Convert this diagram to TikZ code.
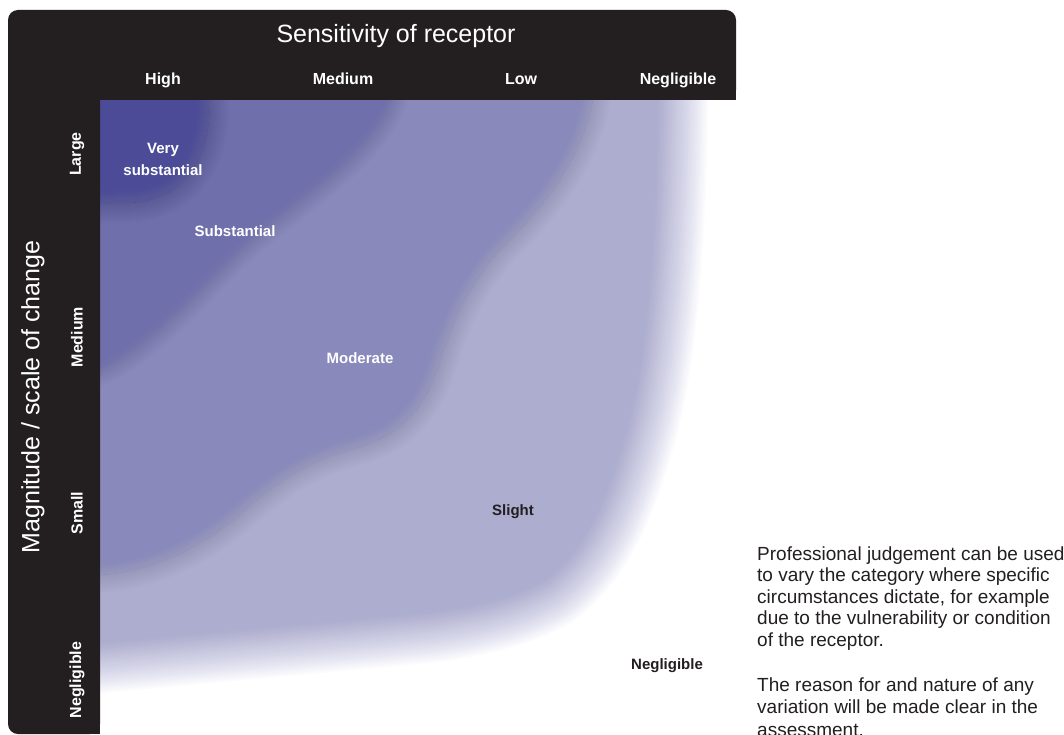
\documentclass[tikz,border=0pt]{standalone}
\usepackage{fontspec}
\setmainfont{Liberation Sans}
\definecolor{framecol}{HTML}{231F20}
\definecolor{vsubcol}{HTML}{4B4B97}
\definecolor{subcol}{HTML}{6F6FAB}
\definecolor{modcol}{HTML}{8989BB}
\definecolor{slicol}{HTML}{ADADD0}
\definecolor{txtcol}{HTML}{231F20}

% soft edge on both sides: #1 region colour, #2 colour outside it, #3 blur width, #4 path
\newcommand\softregion[4]{%
  \foreach \j in {1,...,20}{%
    \pgfmathsetmacro\sfop{1/(41-\j)}%
    \pgfmathsetmacro\sflw{#3*(21-\j)/20}%
    \draw[draw=#1, line width=\sflw pt, draw opacity=\sfop, line join=round] #4;
  }%
  \fill[#1] #4;
  \begin{scope}
    \clip #4;
    \foreach \j in {1,...,20}{%
      \pgfmathsetmacro\sfop{1/(41-\j)}%
      \pgfmathsetmacro\sflw{#3*(21-\j)/20}%
      \draw[draw=#2, line width=\sflw pt, draw opacity=\sfop, line join=round] #4;
    }%
  \end{scope}
}
% soft edge outward only: #1 colour, #2 fade distance, #3 path (core)
\newcommand\softout[3]{%
  \foreach \j in {1,...,24}{%
    \pgfmathsetmacro\sfop{1/(26-\j)}%
    \pgfmathsetmacro\sflw{2*#2*(25-\j)/24}%
    \draw[draw=#1, line width=\sflw pt, draw opacity=\sfop, line join=round] #3;
  }%
  \fill[#1] #3;
}

\tikzset{
  hdr/.style={text=white, font=\fontsize{25}{30}\selectfont, inner sep=0},
  collab/.style={text=white, font=\bfseries\fontsize{16}{19}\selectfont, inner sep=0, anchor=base},
  rowlab/.style={text=white, font=\bfseries\fontsize{16}{19}\selectfont, inner sep=0, rotate=90},
  inlab/.style={text=white, font=\bfseries\fontsize{15}{22}\selectfont, inner sep=0, align=center},
  darklab/.style={inlab, text=txtcol},
  note/.style={text=txtcol, font=\fontsize{19}{21.6}\selectfont, inner sep=0, anchor=base west}
}

\begin{document}
\begin{tikzpicture}[x=1pt, y=-1pt]
\useasboundingbox (0,0) rectangle (1064,735);
\fill[white] (0,0) rectangle (1064,735);

% graded field of the matrix
\begin{scope}
  \clip (100,100) rectangle (1064,735);
  \softout{slicol}{50}{(0,0) -- (661,0) -- (658,100) .. controls (655,300) and (640,380) .. (627,428) .. controls (607,500) and (585,550) .. (545,580) .. controls (510,600) and (465,608) .. (427,613) -- (100,643) -- (0,653) -- cycle}
  \softregion{modcol}{slicol}{36}{(0,0) -- (600,0) -- (593,100) .. controls (580,170) and (530,220) .. (500,250) .. controls (465,290) and (450,330) .. (440,362) .. controls (425,410) and (400,435) .. (360,447) .. controls (310,460) and (280,480) .. (245,510) .. controls (200,550) and (150,572) .. (100,575) -- (0,578) -- cycle}
  \softregion{subcol}{modcol}{36}{(0,0) -- (395,0) -- (390,100) .. controls (370,150) and (310,190) .. (260,230) .. controls (210,270) and (160,340) .. (100,368) -- (0,380) -- cycle}
  \softregion{vsubcol}{subcol}{40}{(0,0) -- (212,0) -- (210,100) .. controls (210,160) and (185,200) .. (130,203) -- (0,205) -- cycle}
\end{scope}

% dark L-shaped frame
\fill[framecol, rounded corners=10pt] (8,10) rectangle (736,100);
\fill[framecol] (8,60) rectangle (736,100);
\fill[framecol, rounded corners=10pt] (8,60) rectangle (100,734);
\fill[framecol] (60,60) rectangle (100,734);

% header texts
\node[hdr] (title) at (396,36) {Sensitivity of receptor};
\node[collab] (cHigh) at (163,85) {High};
\node[collab] (cMed) at (343,85) {Medium};
\node[collab] (cLow) at (521,85) {Low};
\node[collab] (cNeg) at (678,85) {Negligible};

\node[hdr, rotate=90] (ytitle) at (33,397) {Magnitude / scale of change};
\node[rowlab] (rLarge) at (77,154) {Large};
\node[rowlab] (rMed) at (77,337) {Medium};
\node[rowlab] (rSmall) at (77,513) {Small};
\node[rowlab] (rNeg) at (77,680) {Negligible};

% category labels
\node[inlab] (vs) at (163,159) {Very\\substantial};
\node[inlab] (sub) at (235,231) {Substantial};
\node[inlab] (mod) at (360,358) {Moderate};
\node[darklab] (sli) at (513,512) {Slight};
\node[darklab] (neg) at (667,666) {Negligible};

% side note
\node[note] (note1) at (757,560) {\vtop{\hbox{Professional judgement can be used}\hbox{to vary the category where specific}\hbox{circumstances dictate, for example}\hbox{due to the vulnerability or condition}\hbox{of the receptor.}}};
\node[note, font=\fontsize{19}{22.5}\selectfont] (note2) at (757,691) {\vtop{\hbox{The reason for and nature of any}\hbox{variation will be made clear in the}\hbox{assessment.}}};
\end{tikzpicture}
\end{document}
